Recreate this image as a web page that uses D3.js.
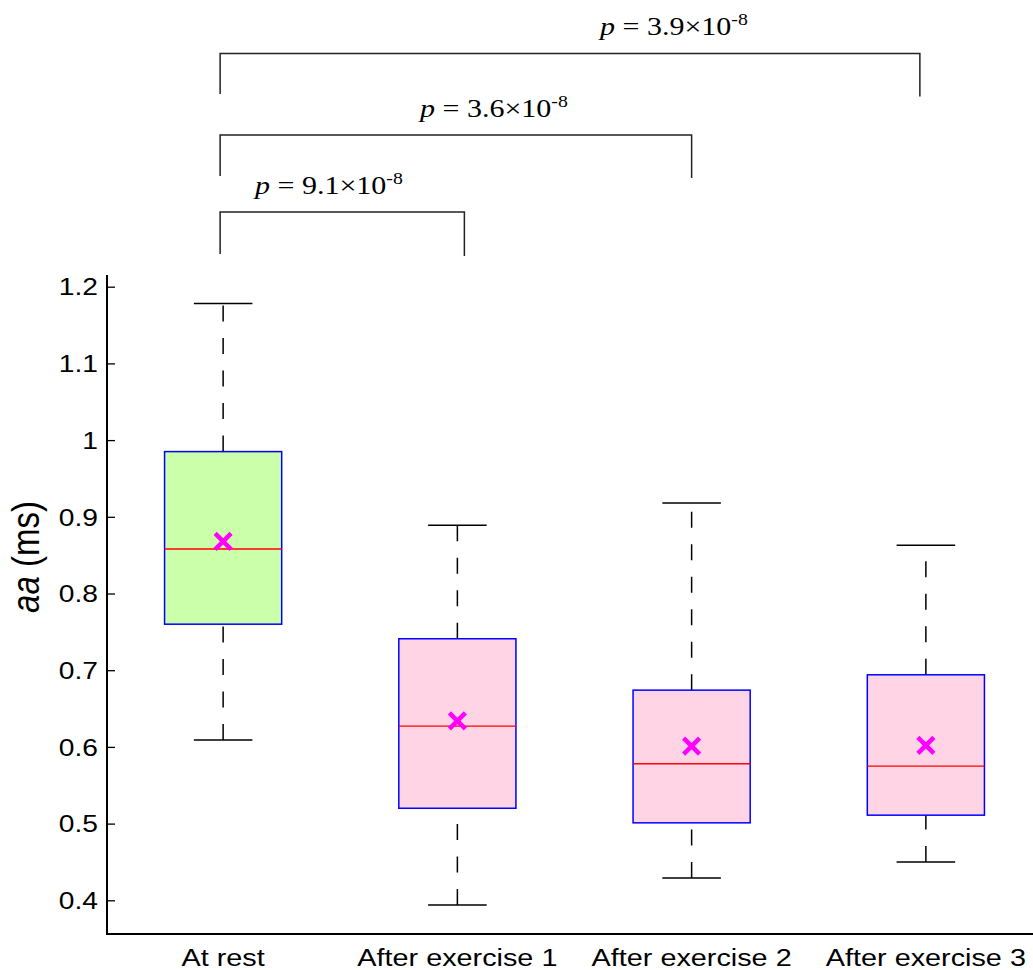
<!DOCTYPE html>
<html><head><meta charset="utf-8">
<script src="https://cdn.jsdelivr.net/npm/d3@7"></script>
<style>html,body{margin:0;padding:0;background:#fff;}svg{display:block;}</style>
</head><body>
<svg id="chart" width="1033" height="970"></svg>
<script>
// ---- data ----
const categories = ["At rest", "After exercise 1", "After exercise 2", "After exercise 3"];
const whiskerLow = [0.609, 0.394, 0.429, 0.450];
const q1 = [0.760, 0.520, 0.501, 0.511];
const median = [0.858, 0.627, 0.578, 0.575];
const q3 = [0.985, 0.741, 0.674, 0.694];
const whiskerHigh = [1.178, 0.889, 0.918, 0.863];
const means = [0.868, 0.634, 0.601, 0.602];
const yTicks = [0.4, 0.5, 0.6, 0.7, 0.8, 0.9, 1.0, 1.1, 1.2];
const yTickLabels = ["0.4", "0.5", "0.6", "0.7", "0.8", "0.9", "1", "1.1", "1.2"];
const comparisons = [
  {from: 0, to: 1, mant: "9.1", exp: "-8"},
  {from: 0, to: 2, mant: "3.6", exp: "-8"},
  {from: 0, to: 3, mant: "3.9", exp: "-8"}
];

// ---- layout ----
const svg = d3.select("#chart");
const SX = 1.2; // horizontal text stretch of the reference
const axisX = 107, axisTop = 275, axisBottom = 934;
const x = d3.scaleLinear().domain([-0.5, 3.5]).range([106, 1043]);
const y = d3.scaleLinear().domain([0.4, 1.2]).range([900.3, 286.7]);
const boxHalf = 0.25, capHalf = 0.125;
const fills = ["#ccffaa", "#ffd5e5", "#ffd5e5", "#ffd5e5"];
const bracketLayout = [
  {yTop: 212, leftBottom: 254, rightBottom: 256, dxL: -3, dxR: 7, textX: 255, textY: 194},
  {yTop: 135, leftBottom: 176, rightBottom: 178, dxL: -3, dxR: 0, textX: 420, textY: 117},
  {yTop: 53.5, leftBottom: 94, rightBottom: 96.5, dxL: -3, dxR: -6, textX: 600, textY: 35}
];
const sansFont = "Liberation Sans, Arial, sans-serif";
const serifFont = "Liberation Serif, Times New Roman, serif";

// axes lines
svg.append("line").attr("x1", axisX).attr("x2", axisX).attr("y1", axisTop).attr("y2", axisBottom + 1)
  .attr("stroke", "#000").attr("stroke-width", 2);
svg.append("line").attr("x1", axisX - 1).attr("x2", 1033).attr("y1", axisBottom).attr("y2", axisBottom)
  .attr("stroke", "#000").attr("stroke-width", 2);

// y axis ticks via d3 axis
const yAxis = d3.axisRight(y).tickValues(yTicks).tickSize(8)
  .tickFormat((d, i) => yTickLabels[i]);
const gy = svg.append("g").attr("transform", `translate(${axisX},0)`).call(yAxis);
gy.select(".domain").remove();
gy.selectAll(".tick line").attr("stroke", "#000").attr("stroke-width", 1.3);
gy.selectAll(".tick text").attr("x", -9 / SX).attr("text-anchor", "end")
  .attr("transform", `scale(${SX},1)`)
  .attr("font-family", sansFont).attr("font-size", 23.5).attr("fill", "#000")
  .attr("dy", "0.35em");

// y label
const ylab = svg.append("text").attr("transform", `translate(39,557) scale(${SX},1) rotate(-90)`)
  .attr("text-anchor", "middle").attr("font-family", sansFont)
  .attr("font-size", 33).attr("fill", "#000");
ylab.append("tspan").attr("font-style", "italic").text("aa");
ylab.append("tspan").text(" (ms)");

// x labels
svg.append("g").selectAll("text").data(categories).join("text")
  .attr("transform", (d, i) => `translate(${x(i)},966) scale(${SX},1)`)
  .attr("text-anchor", "middle")
  .attr("font-family", sansFont).attr("font-size", 24).attr("fill", "#000")
  .text(d => d);

// boxes
const g = svg.append("g");
categories.forEach((c, i) => {
  const cx = x(i);
  // upper whisker: from q3 to cap
  g.append("line").attr("x1", cx).attr("x2", cx).attr("y1", y(q3[i])).attr("y2", y(whiskerHigh[i]))
    .attr("stroke", "#000").attr("stroke-width", 1.5).attr("stroke-dasharray", "16,16.5");
  // lower whisker: from cap to q1
  g.append("line").attr("x1", cx).attr("x2", cx).attr("y1", y(whiskerLow[i])).attr("y2", y(q1[i]))
    .attr("stroke", "#000").attr("stroke-width", 1.5).attr("stroke-dasharray", "16,16.5");
  // caps
  [whiskerHigh[i], whiskerLow[i]].forEach(v => {
    g.append("line").attr("x1", x(i - capHalf)).attr("x2", x(i + capHalf)).attr("y1", y(v)).attr("y2", y(v))
      .attr("stroke", "#000").attr("stroke-width", 1.5);
  });
  // box
  g.append("rect").attr("x", x(i - boxHalf)).attr("y", y(q3[i]))
    .attr("width", x(i + boxHalf) - x(i - boxHalf)).attr("height", y(q1[i]) - y(q3[i]))
    .attr("fill", fills[i]).attr("stroke", "#0000ff").attr("stroke-width", 1.5);
  // median
  g.append("line").attr("x1", x(i - boxHalf)).attr("x2", x(i + boxHalf)).attr("y1", y(median[i])).attr("y2", y(median[i]))
    .attr("stroke", "#ff0000").attr("stroke-width", 1.3);
  // mean marker
  const my = y(means[i]), s = 8;
  g.append("path").attr("d", `M${cx - s},${my - s}L${cx + s},${my + s}M${cx - s},${my + s}L${cx + s},${my - s}`)
    .attr("stroke", "#ff00ff").attr("stroke-width", 4.5).attr("fill", "none");
});

// significance brackets
comparisons.forEach((cmp, k) => {
  const L = bracketLayout[k];
  const x1 = x(cmp.from) + L.dxL, x2 = x(cmp.to) + L.dxR;
  svg.append("path")
    .attr("d", `M${x1},${L.leftBottom}V${L.yTop}H${x2}V${L.rightBottom}`)
    .attr("fill", "none").attr("stroke", "#222").attr("stroke-width", 1.5);
  const t = svg.append("text").attr("transform", `translate(${L.textX},${L.textY}) scale(${SX},1)`)
    .attr("font-family", serifFont).attr("font-size", 25).attr("fill", "#000");
  t.append("tspan").attr("font-style", "italic").text("p");
  t.append("tspan").text(" = " + cmp.mant + "\u00d710");
  t.append("tspan").attr("font-size", 16.5).attr("dy", -10).text(cmp.exp);
});
</script>
</body></html>
